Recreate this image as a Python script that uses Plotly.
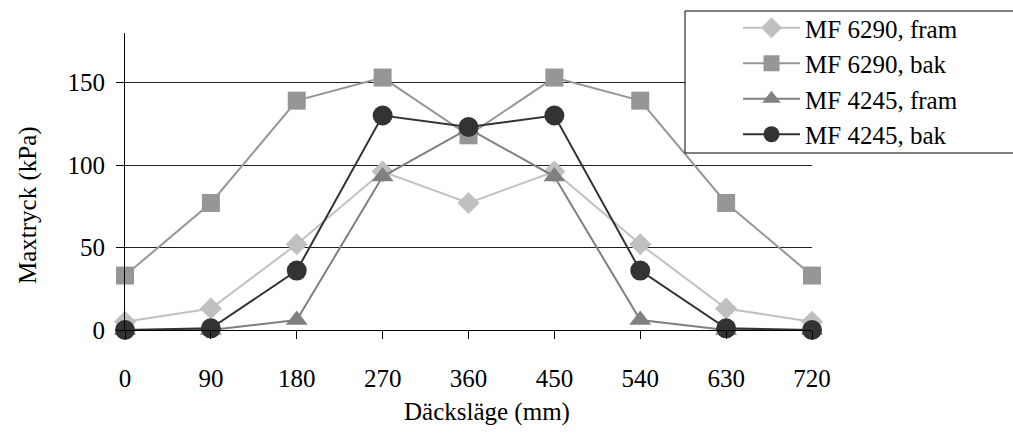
import plotly.graph_objects as go

positions = [0, 90, 180, 270, 360, 450, 540, 630, 720]
tick_labels = ["0", "90", "180", "270", "360", "450", "540", "630", "720"]
mf6290_fram = [5, 13, 52, 96, 77, 96, 52, 13, 5]
mf6290_bak = [33, 77, 139, 153, 118, 153, 139, 77, 33]
mf4245_fram = [0, 0, 6, 93, 122, 93, 6, 0, 0]
mf4245_bak = [0, 1, 36, 130, 123, 130, 36, 1, 0]

series = [
    ("MF 6290, fram", mf6290_fram, "#c0c0c0", "diamond", 17),
    ("MF 6290, bak", mf6290_bak, "#969696", "square", 18),
    ("MF 4245, fram", mf4245_fram, "#808080", "triangle-up", 19),
    ("MF 4245, bak", mf4245_bak, "#333333", "circle", 20),
]

FONT = "Liberation Serif"
FS = 25
fig = go.Figure()
for name, vals, col, sym, sz in series:
    fig.add_trace(go.Scatter(
        x=positions, y=vals, name=name, mode="lines+markers",
        line=dict(color=col, width=2),
        marker=dict(symbol=sym, size=sz, color=col, line=dict(width=0)),
        cliponaxis=False, legendgroup=name,
    ))

W, H = 1013, 441
L, R, T, B = 125, 812, 33, 330
fig.update_layout(
    width=W, height=H,
    margin=dict(l=L, r=W - R, t=T, b=H - B, autoexpand=False),
    paper_bgcolor="white", plot_bgcolor="white",
    font=dict(family=FONT, size=FS, color="black"),
    showlegend=True,
    legend=dict(
        x=(738 - L) / (R - L), y=(B - 5) / (B - T), xanchor="left", yanchor="top",
        bgcolor="rgba(0,0,0,0)", borderwidth=0,
        font=dict(family=FONT, size=FS, color="black"),
        traceorder="grouped", tracegroupgap=0, itemwidth=57,
    ),
    xaxis=dict(
        range=[0, 720], tickvals=positions, ticktext=tick_labels,
        showgrid=False, zeroline=False, showline=True, linecolor="black", linewidth=1,
        ticks="outside", ticklen=8, tickcolor="black", ticklabelstandoff=18,
        tickfont=dict(family=FONT, size=FS),
    ),
    yaxis=dict(
        range=[0, 180], tickvals=[0, 50, 100, 150],
        showgrid=True, gridcolor="#222222", gridwidth=1,
        zeroline=False, showline=True, linecolor="black", linewidth=1,
        ticks="outside", ticklen=8, tickcolor="black", ticklabelstandoff=6,
        tickfont=dict(family=FONT, size=FS),
    ),
    shapes=[dict(
        type="rect", xref="paper", yref="paper",
        x0=(685 - L) / (R - L), x1=(1030 - L) / (R - L),
        y0=(B - 153) / (B - T), y1=(B - 11) / (B - T),
        fillcolor="white", line=dict(color="black", width=1), layer="above",
    )],
    annotations=[
        dict(text="Maxtryck (kPa)", xref="paper", yref="paper",
             x=(28 - L) / (R - L), y=(B - 205) / (B - T), textangle=-90,
             xanchor="center", yanchor="middle",
             showarrow=False, font=dict(family=FONT, size=FS)),
        dict(text="Däcksläge (mm)", xref="paper", yref="paper",
             x=(487 - L) / (R - L), y=(B - 412) / (B - T),
             xanchor="center", yanchor="middle",
             showarrow=False, font=dict(family=FONT, size=FS)),
    ],
)
fig.write_html("out.html", config={"displayModeBar": False},
               post_script="document.body.style.margin='0px';")
